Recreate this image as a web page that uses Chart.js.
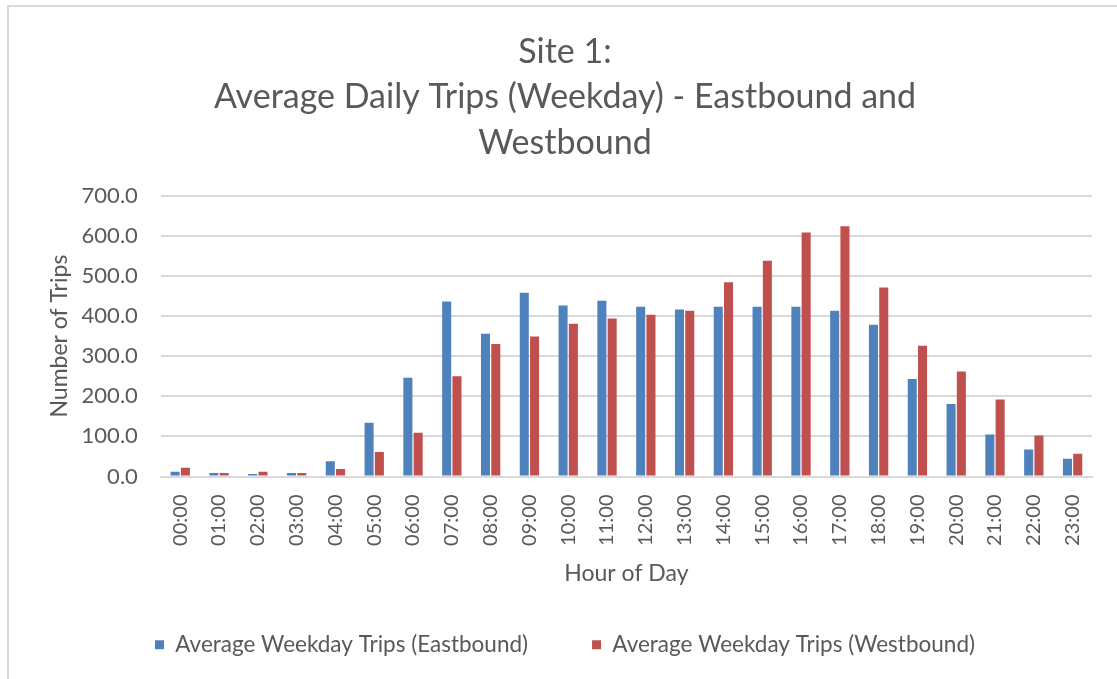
<!DOCTYPE html>
<html lang="en">
<head>
    <meta charset="UTF-8">
    <title>Site 1: Average Daily Trips (Weekday)</title>
    <script src="https://cdn.jsdelivr.net/npm/chart.js"></script>
    <style>
        html, body {
            margin: 0;
            padding: 0;
            background: #fff;
        }
        #wrap {
            position: relative;
            width: 1117px;
            height: 679px;
        }
        /* cropped frame of the original chart: only top and left edges show */
        #frame {
            position: absolute;
            left: 7px;
            top: 5px;
            right: -10px;
            bottom: -10px;
            border-top: 2px solid #d9d9d9;
            border-left: 2px solid #d9d9d9;
            pointer-events: none;
        }
    </style>
</head>
<body>
    <div id="wrap">
        <canvas id="tripsChart" width="1117" height="679"></canvas>
        <div id="frame"></div>
    </div>

    <script>
        // Hour of day labels
        const hours = ['00:00', '01:00', '02:00', '03:00', '04:00', '05:00', '06:00', '07:00',
                       '08:00', '09:00', '10:00', '11:00', '12:00', '13:00', '14:00', '15:00',
                       '16:00', '17:00', '18:00', '19:00', '20:00', '21:00', '22:00', '23:00'];

        // Average weekday trips
        const eastbound = [12, 9, 6, 9, 38, 134, 246, 436, 356, 458, 426, 438,
                           423, 416, 423, 423, 423, 413, 378, 243, 181, 105, 67, 44];
        const westbound = [22, 9, 12, 9, 19, 61, 109, 250, 330, 349, 381, 394,
                           403, 413, 484, 538, 608, 624, 471, 326, 262, 192, 102, 57];

        const yTicks = [0, 100, 200, 300, 400, 500, 600, 700];

        const textColor = '#595959';
        const gridColor = '#d9d9d9';
        const fontFamily = 'Lato, "Open Sans", sans-serif';

        const ctx = document.getElementById('tripsChart').getContext('2d');
        const tripsChart = new Chart(ctx, {
            type: 'bar',
            data: {
                labels: hours,
                datasets: [
                    {
                        label: 'Average Weekday Trips (Eastbound)',
                        data: eastbound,
                        backgroundColor: '#4f81bd',
                        categoryPercentage: 0.53,
                        barPercentage: 0.88
                    },
                    {
                        label: 'Average Weekday Trips (Westbound)',
                        data: westbound,
                        backgroundColor: '#c0504d',
                        categoryPercentage: 0.53,
                        barPercentage: 0.88
                    }
                ]
            },
            options: {
                responsive: false,
                animation: false,
                layout: {
                    padding: { left: 38, right: 25, top: 0, bottom: 13 }
                },
                plugins: {
                    title: {
                        display: true,
                        text: ['Site 1:', 'Average Daily Trips (Weekday) - Eastbound and', 'Westbound'],
                        color: textColor,
                        font: { family: fontFamily, size: 34, weight: 'normal', lineHeight: 1.34 },
                        padding: { top: 29, bottom: 30 }
                    },
                    legend: {
                        position: 'bottom',
                        labels: {
                            color: textColor,
                            font: { family: fontFamily, size: 22.5 },
                            boxWidth: 9,
                            boxHeight: 9,
                            padding: 64
                        }
                    },
                    tooltip: { enabled: false }
                },
                scales: {
                    x: {
                        grid: { display: false },
                        border: { color: gridColor, width: 2 },
                        ticks: {
                            color: textColor,
                            font: { family: fontFamily, size: 20 },
                            minRotation: 90,
                            maxRotation: 90,
                            padding: 10
                        },
                        title: {
                            display: true,
                            text: 'Hour of Day',
                            color: textColor,
                            font: { family: fontFamily, size: 23 },
                            padding: { top: 4, bottom: -18 }
                        }
                    },
                    y: {
                        min: 0,
                        max: 700,
                        afterBuildTicks: scale => {
                            scale.ticks = yTicks.map(v => ({ value: v }));
                        },
                        grid: { color: gridColor, lineWidth: 2, drawTicks: false },
                        border: { display: false },
                        ticks: {
                            color: textColor,
                            font: { family: fontFamily, size: 22 },
                            padding: 23,
                            callback: v => Number(v).toFixed(1)
                        },
                        title: {
                            display: true,
                            text: 'Number of Trips',
                            color: textColor,
                            font: { family: fontFamily, size: 23 },
                            padding: { top: 8, bottom: -15 }
                        }
                    }
                }
            }
        });
    </script>
</body>
</html>
